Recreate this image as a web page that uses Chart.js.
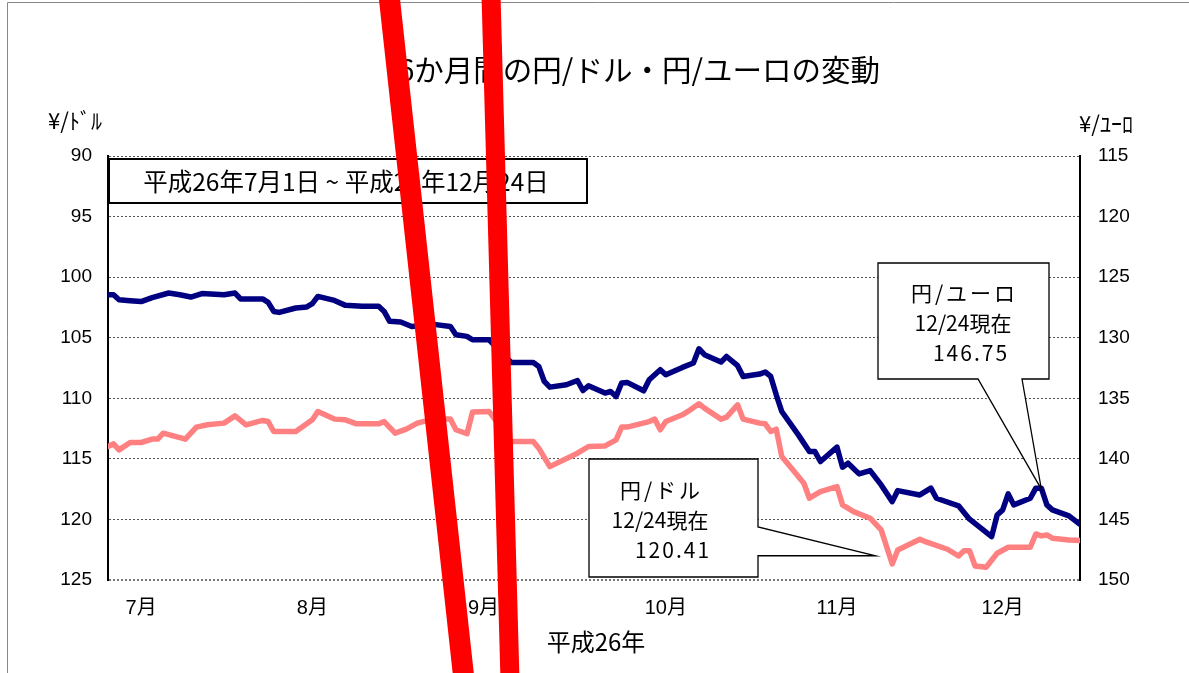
<!DOCTYPE html>
<html lang="ja">
<head>
<meta charset="utf-8">
<title>6か月間の円/ドル・円/ユーロの変動</title>
<script src="https://cdn.jsdelivr.net/npm/chart.js@4.4.0/dist/chart.umd.min.js"></script>
<style>
  html, body { margin: 0; padding: 0; background: #fff; }
  #wrap { width: 1189px; height: 673px; position: relative; }
</style>
</head>
<body>
<div id="wrap"><canvas id="fx" width="1189" height="673"></canvas></div>
<script>
// 平成26年7月1日からの経過日数 (day 0 = 7/1, 176 = 12/24)
const usdDays = [0,1,2,4,6,8,11,13,15,17,21,23,24,28,29,30,31,34,36,37,38,41,43,46,49,50,51,53,55,59,62,63,65,66,69,73,77,78,79,80,83,85,86,87,90,91,92,93,94,97,98,100,101,104,106,107,108,111,112,114,115,118,119,120,121,122,125,127,128,129,132,133,134,136,138,140,142,143,147,149,150,154,156,160,161,162,163,164,167,168,169,170,171,174,176];
const usdRate = [101.45,101.45,101.86,101.94,102.02,101.69,101.31,101.45,101.64,101.36,101.45,101.31,101.80,101.80,102.08,102.83,102.91,102.55,102.46,102.19,101.59,101.92,102.33,102.41,102.41,102.83,103.65,103.70,104.07,103.90,104.07,104.75,104.89,105.17,105.17,107.04,107.04,107.37,108.61,109.08,108.88,108.53,109.36,108.97,109.57,109.44,109.85,108.74,108.69,109.38,108.47,107.64,108.06,107.45,107.09,105.91,106.40,107.01,106.55,107.31,108.20,108.00,107.83,108.20,109.71,111.09,113.02,114.40,114.40,115.22,114.03,115.69,115.36,116.24,115.97,117.15,118.53,117.62,117.98,117.42,118.25,118.88,119.98,121.42,119.63,119.21,117.89,118.80,118.25,117.42,117.42,118.80,119.21,119.71,120.41];

const eurDays = [0,1,2,4,6,8,9,10,14,16,18,21,23,25,28,29,30,34,37,38,41,43,45,49,50,52,54,56,59,62,63,65,66,69,73,77,78,80,85,87,90,92,93,94,98,99,100,101,104,105,107,108,111,112,114,115,118,119,120,121,122,126,127,129,132,133,135,138,140,142,143,147,148,152,154,155,156,157,159,161,163,167,168,169,170,171,174,176];
const eurRate = [138.98,138.76,139.26,138.65,138.65,138.37,138.37,137.88,138.37,137.38,137.19,137.05,136.45,137.19,136.83,136.92,137.74,137.74,136.78,136.09,136.72,136.78,137.11,137.11,136.92,137.88,137.55,137.05,136.70,136.72,137.60,137.93,136.14,136.09,138.57,138.57,139.12,140.64,139.53,138.98,138.93,138.43,137.38,137.38,136.92,136.72,137.60,136.92,136.36,136.09,135.45,135.81,136.72,136.55,135.54,136.72,137.05,137.11,137.74,137.55,139.81,142.01,143.25,142.70,142.29,143.80,144.36,144.90,145.87,148.68,147.52,146.64,146.83,147.46,148.02,147.58,147.58,148.84,148.95,147.79,147.30,147.30,146.20,146.36,146.28,146.55,146.70,146.75];

const monthTicks = [6, 37, 68, 101, 132, 162];
const monthLabels = ['7月', '8月', '9月', '10月', '11月', '12月'];

const titleText = '6か月間の円/ドル・円/ユーロの変動';
const periodText = '平成26年7月1日 ~ 平成26年12月24日';
const eurNote = ['円/ユーロ', '12/24現在', '146.75'];
const usdNote = ['円/ドル', '12/24現在', '120.41'];

const jp = '"Noto Sans CJK JP", sans-serif';
const num = '"Liberation Sans", Arial, "Noto Sans CJK JP", sans-serif';

function callout(c, pts) {
    c.beginPath();
    c.moveTo(pts[0][0], pts[0][1]);
    for (let i = 1; i < pts.length; i++) c.lineTo(pts[i][0], pts[i][1]);
    c.closePath();
    c.fillStyle = '#fff';
    c.fill();
    c.lineWidth = 1.3;
    c.strokeStyle = '#000';
    c.stroke();
}

function spaced(c, text, x, y, gap) {
    c.letterSpacing = gap + 'px';
    c.fillText(text, x + gap / 2, y);
    c.letterSpacing = '0px';
}

const decor = {
    id: 'decor',
    afterDraw(chart) {
        const c = chart.ctx;
        const xs = chart.scales.x, ys = chart.scales.y;
        c.save();

        // outer frame
        c.strokeStyle = '#888';
        c.lineWidth = 1;
        c.beginPath();
        c.moveTo(7.5, 673);
        c.lineTo(7.5, 2.5);
        c.lineTo(1189, 2.5);
        c.stroke();

        c.fillStyle = '#000';
        c.textAlign = 'center';
        c.textBaseline = 'middle';

        c.font = '29.5px ' + jp;
        c.fillText(titleText, 639, 70);

        c.font = '22px ' + jp;
        c.fillText('¥/ﾄﾞﾙ', 75, 121);
        c.fillText('¥/ﾕｰﾛ', 1106, 124);

        c.font = '24px ' + jp;
        c.fillText('平成26年', 596, 642);

        // period box
        c.fillStyle = '#fff';
        c.fillRect(109, 159, 478, 44);
        c.lineWidth = 2;
        c.strokeStyle = '#000';
        c.strokeRect(109, 159, 478, 44);
        c.fillStyle = '#000';
        c.font = '24.5px ' + jp;
        c.fillText(periodText, 346, 182);

        // callout: 円/ユーロ
        const t1x = xs.getPixelForValue(169), t1y = ys.getPixelForValue(117.5);
        callout(c, [[878, 263], [1049, 263], [1049, 379], [1022, 379], [t1x, t1y], [978, 379], [878, 379]]);
        c.fillStyle = '#000';
        c.font = '21px ' + jp;
        spaced(c, eurNote[0], 963, 293, 3);
        c.fillText(eurNote[1], 963, 323);
        spaced(c, eurNote[2], 970, 353, 2);

        // callout: 円/ドル
        const t2x = xs.getPixelForValue(139), t2y = ys.getPixelForValue(123);
        callout(c, [[589, 459], [758, 459], [758, 527], [t2x, t2y], [758, t2y], [758, 577], [589, 577]]);
        c.fillStyle = '#000';
        spaced(c, usdNote[0], 660, 490, 3);
        c.fillText(usdNote[1], 660, 520);
        spaced(c, usdNote[2], 672, 550, 2);

        // red strokes over the picture
        c.strokeStyle = '#ff0000';
        c.lineCap = 'butt';
        c.lineWidth = 21;
        c.beginPath();
        c.moveTo(389, -5);
        c.lineTo(464, 680);
        c.stroke();
        c.lineWidth = 19;
        c.beginPath();
        c.moveTo(491, -5);
        c.lineTo(510, 680);
        c.stroke();

        c.restore();
    }
};

const ctx = document.getElementById('fx').getContext('2d');

new Chart(ctx, {
    type: 'line',
    data: {
        datasets: [
            {
                label: '円/ドル',
                data: usdDays.map((d, i) => ({ x: d, y: usdRate[i] })),
                borderColor: '#000080',
                borderWidth: 5.5,
                yAxisID: 'y'
            },
            {
                label: '円/ユーロ',
                data: eurDays.map((d, i) => ({ x: d, y: eurRate[i] })),
                borderColor: '#ff8080',
                borderWidth: 5.5,
                yAxisID: 'y2'
            }
        ]
    },
    options: {
        responsive: false,
        animation: false,
        layout: { padding: { top: 156, left: 0, right: 0, bottom: 0 } },
        elements: {
            point: { radius: 0 },
            line: { tension: 0, borderJoinStyle: 'round', borderCapStyle: 'round' }
        },
        plugins: {
            legend: { display: false },
            title: { display: false },
            tooltip: { enabled: false }
        },
        scales: {
            x: {
                type: 'linear',
                min: 0,
                max: 176,
                grid: { display: false, drawTicks: false },
                border: { display: false },
                afterBuildTicks: s => { s.ticks = monthTicks.map(v => ({ value: v })); },
                ticks: {
                    autoSkip: false,
                    maxRotation: 0,
                    padding: 16,
                    color: '#000',
                    font: { family: num, size: 20 },
                    callback: (v, i) => monthLabels[i]
                },
                afterFit: s => { s.height = 93; }
            },
            y: {
                position: 'left',
                min: 90,
                max: 125,
                reverse: true,
                ticks: { stepSize: 5, padding: 16, color: '#000', font: { family: num, size: 19 } },
                grid: {
                    drawTicks: false,
                    color: c => c.tick && c.tick.value === 125 ? '#777' : '#555',
                    lineWidth: c => c.tick && c.tick.value === 125 ? 2 : 1
                },
                border: { display: true, color: '#000', width: 2, dash: [2, 2] },
                afterFit: s => { s.width = 108; }
            },
            y2: {
                position: 'right',
                min: 115,
                max: 150,
                reverse: true,
                ticks: { stepSize: 5, padding: 18, color: '#000', font: { family: num, size: 19 } },
                grid: { display: false, drawTicks: false },
                border: { display: true, color: '#000', width: 2 },
                afterFit: s => { s.width = 109; }
            }
        }
    },
    plugins: [decor]
});
</script>
</body>
</html>
